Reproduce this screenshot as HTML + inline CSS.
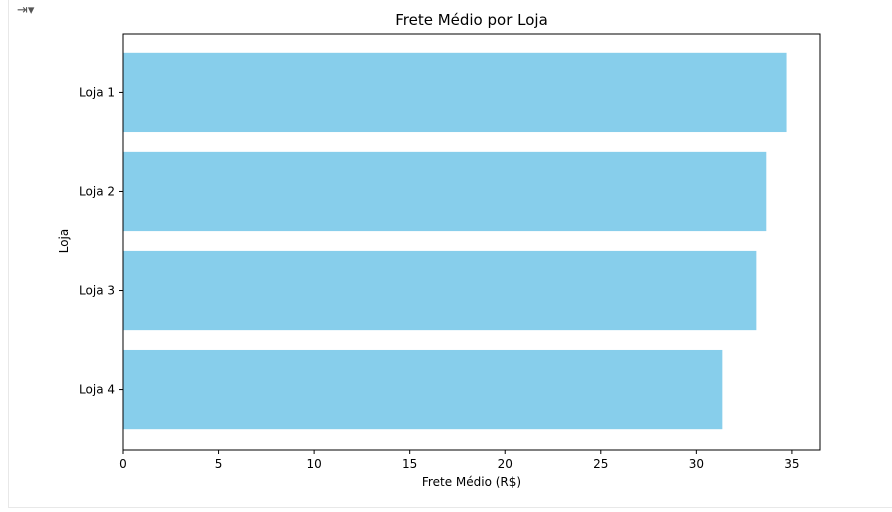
<!DOCTYPE html>
<html><head><meta charset="utf-8"><style>
body{margin:0;background:#fff;width:892px;height:512px;overflow:hidden;font-family:"DejaVu Sans","Liberation Sans",sans-serif}
#frame{position:absolute;left:8px;top:0;width:884px;height:507px;border-left:1px solid #e8e8e8;border-bottom:1px solid #e8e8e8}
</style></head><body>
<div id="frame"></div>
<div style="position:absolute;left:17px;top:3px;font-size:13px;color:#555">⇥▾</div>
<svg id="chart" width="892" height="512" style="position:absolute;left:0;top:0"></svg>
<script>
const categories=["Loja 1","Loja 2","Loja 3","Loja 4"];
const values=[34.72,33.66,33.14,31.36];
const xTicks=[0,5,10,15,20,25,30,35];
const NS="http://www.w3.org/2000/svg";
const svg=document.getElementById('chart');
const L=123,R=820,T=33,B=449,XMAX=36.47;
const x=v=>L+v/XMAX*(R-L);
const step=(B-T)/(categories.length+0.2);
const yc=i=>T+step*(0.6+i);
function mk(tag,attrs,name,txt){const e=document.createElementNS(NS,tag);for(const k in attrs)e.setAttribute(k,attrs[k]);


if(txt!==undefined)e.textContent=txt;svg.appendChild(e);return e;}
categories.forEach((c,i)=>{
  const h=step*0.8;
  mk('rect',{x:L,y:yc(i)-h/2,width:x(values[i])-L,height:h,fill:'#87ceeb'},'bar-loja-'+(i+1));
  mk('line',{x1:L-4,x2:L,y1:yc(i),y2:yc(i),stroke:'#000'},'y-tick');
  mk('text',{x:L-8,y:yc(i)+4,'text-anchor':'end','font-size':'12',fill:'#000'},'y-tick-label',c);
});
xTicks.forEach(t=>{
  mk('line',{x1:x(t),x2:x(t),y1:B+1,y2:B+5,stroke:'#000'},'x-tick');
  mk('text',{x:x(t),y:B+19,'text-anchor':'middle','font-size':'12',fill:'#000'},'x-tick-label',String(t));
});
mk('rect',{x:L,y:T+1,width:R-L,height:B-T,fill:'none',stroke:'#000','stroke-width':1},'plot-frame');
mk('text',{x:(L+R)/2,y:25,'text-anchor':'middle','font-size':'15',fill:'#000'},'chart-title','Frete Médio por Loja');
mk('text',{x:(L+R)/2,y:486,'text-anchor':'middle','font-size':'12',fill:'#000'},'x-axis-title','Frete Médio (R$)');
mk('text',{x:68,y:(T+B)/2,'text-anchor':'middle','font-size':'12',fill:'#000',transform:'rotate(-90 68 '+((T+B)/2)+')'},'y-axis-title','Loja');
</script>
</body></html>
